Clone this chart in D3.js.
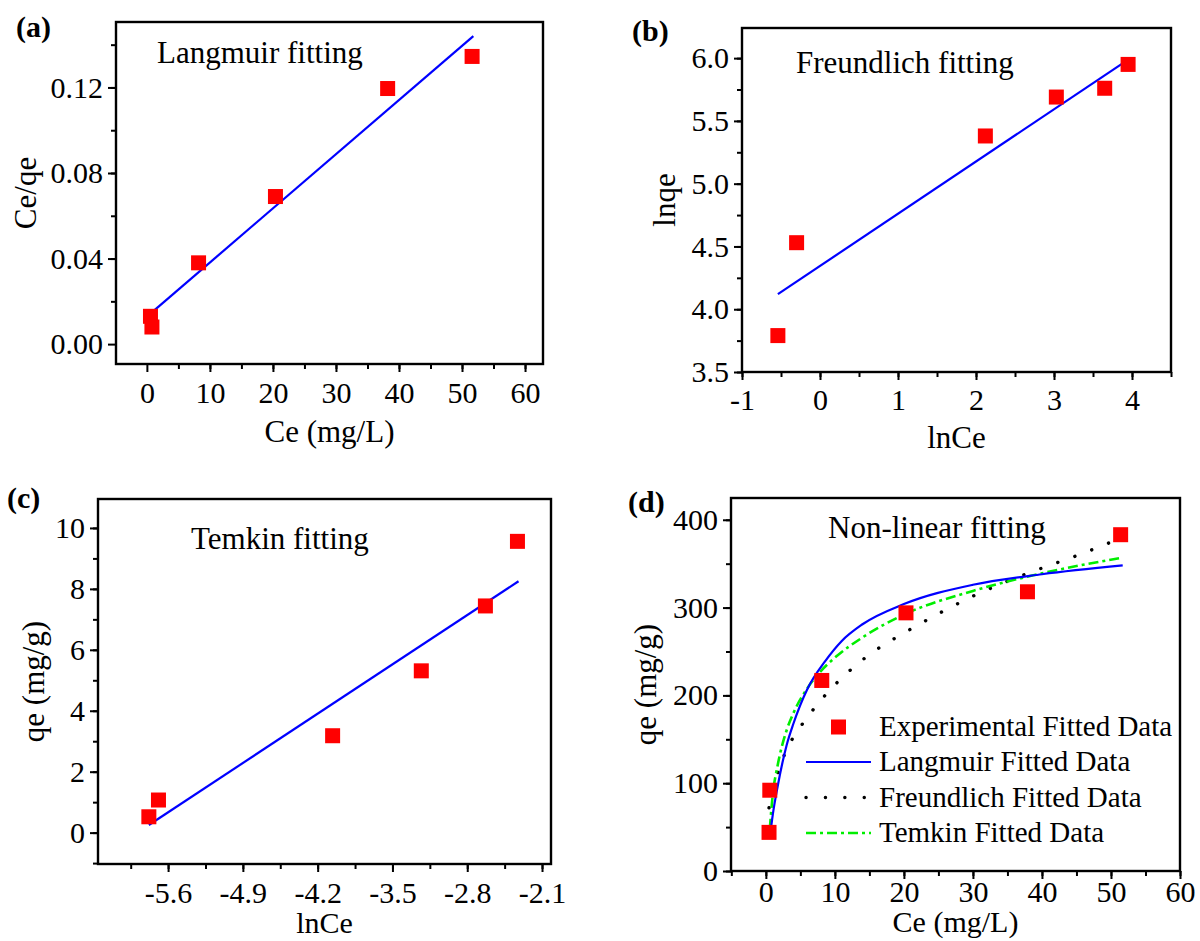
<!DOCTYPE html>
<html>
<head>
<meta charset="utf-8">
<script src="https://d3js.org/d3.v7.min.js"></script>
<style>
  body { margin: 0; background: #fff; }
  text { font-family: "Liberation Serif", "Times New Roman", serif; fill: #000; }
</style>
</head>
<body>
<svg width="1200" height="941"></svg>
<script>
// ---- data ----
// (a) Langmuir linear fit
var ceA   = [0.57, 0.8, 8.2, 20.4, 38.2, 51.6];
var ceqeA = [0.013, 0.008, 0.038, 0.069, 0.1195, 0.1345];
var fitAx = [0.7, 51.8];
var fitAy = [0.0146, 0.144];

// (b) Freundlich linear fit
var lnCeB = [-0.54, -0.30, 2.12, 3.03, 3.65, 3.95];
var lnqeB = [3.79, 4.53, 5.38, 5.69, 5.76, 5.95];
var fitBx = [-0.54, 3.98];
var fitBy = [4.12, 6.0];

// (c) Temkin linear fit
var lnCeC = [-5.78, -5.69, -4.06, -3.23, -2.63, -2.33];
var qeC   = [0.52, 1.07, 3.18, 5.31, 7.44, 9.56];
var fitCx = [-5.78, -2.32];
var fitCy = [0.25, 8.25];

// (d) non-linear fits
var ceD = [0.46, 0.57, 8.1, 20.3, 37.9, 51.4];
var qeD = [44, 92, 217, 294, 318, 383];
var langCe = [0.57, 1, 1.7, 3, 4, 6, 8.6, 11, 14, 20, 30, 40, 51.7];
var langQe = [38, 64, 96, 143, 168, 207, 239, 262, 281, 304, 326, 338, 348];
var freuCe = [0.46, 1, 2, 3, 5, 7.5, 10, 13, 16, 20, 25, 30, 35, 40, 45, 51.7];
var freuQe = [72, 90, 118, 138, 164, 190, 212, 234, 252, 271, 293, 313, 330, 345, 359, 380];
var temkCe = [0.57, 1, 1.7, 3, 4, 6, 8, 10, 14, 20, 30, 40, 51.7];
var temkQe = [48, 87, 120, 160, 180, 208, 228, 243, 266, 292, 319, 339, 357];

// ticks
var xTicksA = [0, 10, 20, 30, 40, 50, 60];
var yTicksA = [0.00, 0.04, 0.08, 0.12];
var yLabelsA = ["0.00", "0.04", "0.08", "0.12"];
var xTicksB = [-1, 0, 1, 2, 3, 4];
var xLabelsB = ["-1", "0", "1", "2", "3", "4"];
var yTicksB = [3.5, 4.0, 4.5, 5.0, 5.5, 6.0];
var yLabelsB = ["3.5", "4.0", "4.5", "5.0", "5.5", "6.0"];
var xTicksC = [-5.6, -4.9, -4.2, -3.5, -2.8, -2.1];
var xLabelsC = ["-5.6", "-4.9", "-4.2", "-3.5", "-2.8", "-2.1"];
var yTicksC = [0, 2, 4, 6, 8, 10];
var xTicksD = [0, 10, 20, 30, 40, 50, 60];
var yTicksD = [0, 100, 200, 300, 400];
var legendD = ["Experimental Fitted Data", "Langmuir Fitted Data", "Freundlich Fitted Data", "Temkin Fitted Data"];

var svg = d3.select("svg");
var zip = function(a, b) { return a.map(function(v, i) { return [v, b[i]]; }); };
var minorOf = function(dom, step, start) {
  var out = [];
  for (var v = start; v <= dom[1] + 1e-9; v += step) if (v >= dom[0] - 1e-9) out.push(+v.toFixed(4));
  return out;
};

function panel(c) {
  var g = svg.append("g");
  var x = d3.scaleLinear().domain(c.xDom).range([c.l, c.r]);
  var y = d3.scaleLinear().domain(c.yDom).range([c.b, c.t]);

  // minor ticks
  g.append("g").attr("transform", "translate(0," + c.b + ")")
    .call(d3.axisBottom(x).tickValues(c.xMinor).tickSize(5).tickFormat(""))
    .call(function(s) { s.select(".domain").remove(); });
  g.append("g").attr("transform", "translate(" + c.l + ",0)")
    .call(d3.axisLeft(y).tickValues(c.yMinor).tickSize(5).tickFormat(""))
    .call(function(s) { s.select(".domain").remove(); });

  var xa = g.append("g").attr("transform", "translate(0," + c.b + ")")
    .call(d3.axisBottom(x).tickValues(c.xTicks).tickSize(8).tickPadding(c.xPad)
      .tickFormat(function(d, i) { return c.xLabels ? c.xLabels[i] : d; }));
  var ya = g.append("g").attr("transform", "translate(" + c.l + ",0)")
    .call(d3.axisLeft(y).tickValues(c.yTicks).tickSize(8).tickPadding(5)
      .tickFormat(function(d, i) { return c.yLabels ? c.yLabels[i] : d; }));
  [xa, ya].forEach(function(a) {
    a.select(".domain").remove();
    a.selectAll("text").attr("font-size", 30);
  });
  g.selectAll(".tick line").attr("stroke", "#000").attr("stroke-width", 2);

  g.append("rect").attr("x", c.l).attr("y", c.t)
    .attr("width", c.r - c.l).attr("height", c.b - c.t)
    .attr("fill", "none").attr("stroke", "#000").attr("stroke-width", 2.4);

  // titles
  g.append("text").attr("x", c.tag[0]).attr("y", c.tag[1])
    .attr("font-size", 30).attr("font-weight", "bold").text(c.tagText);
  g.append("text").attr("x", c.inner[0]).attr("y", c.inner[1])
    .attr("font-size", 31).text(c.innerText);
  g.append("text").attr("x", (c.l + c.r) / 2).attr("y", c.xTitleY)
    .attr("text-anchor", "middle").attr("font-size", c.xTitleSize || 31).text(c.xTitle);
  g.append("text").attr("transform", "translate(" + c.yTitleX + "," + (c.t + c.b) / 2 + ") rotate(-90)")
    .attr("text-anchor", "middle").attr("font-size", 31).text(c.yTitle);

  return { g: g, x: x, y: y };
}

function squares(p, xs, ys) {
  p.g.append("g").selectAll("rect").data(zip(xs, ys)).join("rect")
    .attr("x", function(d) { return p.x(d[0]) - 7.5; })
    .attr("y", function(d) { return p.y(d[1]) - 7.5; })
    .attr("width", 15).attr("height", 15).attr("fill", "#ff0000");
}

function curve(p, xs, ys, color, dash, width, cap) {
  var line = d3.line().x(function(d) { return p.x(d[0]); }).y(function(d) { return p.y(d[1]); })
    .curve(d3.curveMonotoneX);
  p.g.append("path").datum(zip(xs, ys)).attr("d", line)
    .attr("fill", "none").attr("stroke", color).attr("stroke-width", width || 2.2)
    .attr("stroke-dasharray", dash || null).attr("stroke-linecap", cap || "butt");
}

// (a)
var pa = panel({
  l: 116, r: 543, t: 22, b: 364, xDom: [-4.9, 62.85], yDom: [-0.0093, 0.1506],
  xTicks: xTicksA, xMinor: minorOf([-4.9, 62.85], 5, 5),
  yTicks: yTicksA, yLabels: yLabelsA, yMinor: minorOf([-0.0093, 0.1506], 0.02, 0.02),
  xPad: 10,
  tag: [16, 37], tagText: "(a)", inner: [157, 63], innerText: "Langmuir fitting",
  xTitle: "Ce (mg/L)", xTitleY: 442, yTitle: "Ce/qe", yTitleX: 36
});
curve(pa, fitAx, fitAy, "#0000ff");
squares(pa, ceA, ceqeA);

// (b)
var pb = panel({
  l: 742, r: 1171, t: 28, b: 372, xDom: [-1, 4.5], yDom: [3.5, 6.24],
  xTicks: xTicksB, xLabels: xLabelsB, xMinor: minorOf([-1, 4.5], 0.5, -1),
  yTicks: yTicksB, yLabels: yLabelsB, yMinor: minorOf([3.5, 6.24], 0.25, 3.5),
  xPad: 9,
  tag: [632, 41], tagText: "(b)", inner: [796, 73], innerText: "Freundlich fitting",
  xTitle: "lnCe", xTitleY: 448, yTitle: "lnqe", yTitleX: 675
});
curve(pb, fitBx, fitBy, "#0000ff");
squares(pb, lnCeB, lnqeB);

// (c)
var pc = panel({
  l: 98, r: 551, t: 499, b: 864, xDom: [-6.256, -2.016], yDom: [-1.03, 10.95],
  xTicks: xTicksC, xLabels: xLabelsC, xMinor: minorOf([-6.256, -2.016], 0.35, -5.95),
  yTicks: yTicksC, yMinor: minorOf([-1.03, 10.95], 1, -1),
  xPad: 10,
  tag: [7, 508], tagText: "(c)", inner: [191, 549], innerText: "Temkin fitting",
  xTitle: "lnCe", xTitleY: 933, xTitleSize: 30, yTitle: "qe (mg/g)", yTitleX: 44
});
curve(pc, fitCx, fitCy, "#0000ff");
squares(pc, lnCeC, qeC);

// (d)
var pd = panel({
  l: 731, r: 1180, t: 498, b: 871, xDom: [-5.05, 60], yDom: [0, 424.8],
  xTicks: xTicksD, xMinor: minorOf([-5.05, 60], 5, -5),
  yTicks: yTicksD, yMinor: minorOf([0, 424.8], 50, 0),
  xPad: 2,
  tag: [628, 512], tagText: "(d)", inner: [828, 538], innerText: "Non-linear fitting",
  xTitle: "Ce (mg/L)", xTitleY: 932, xTitleSize: 30, yTitle: "qe (mg/g)", yTitleX: 656
});
curve(pd, freuCe, freuQe, "#000", "0.1,18", 3.4, "round");
curve(pd, temkCe, temkQe, "#00ee00", "10,4,3,4", 2.6);
curve(pd, langCe, langQe, "#0000ff", null, 2.2);
squares(pd, ceD, qeD);

// legend (d)
var leg = pd.g.append("g");
var legY = [727, 762, 797.5, 833];
leg.append("rect").attr("x", 831).attr("y", legY[0] - 7.5).attr("width", 15).attr("height", 15).attr("fill", "#ff0000");
var legStyle = [null, ["#0000ff", null, 2.2, "butt"], ["#000", "0.1,19.3", 3.4, "round"], ["#00ee00", "10,4,3,4", 2.6, "butt"]];
legStyle.forEach(function(s, i) {
  if (!s) return;
  leg.append("line").attr("x1", 806).attr("x2", 871).attr("y1", legY[i]).attr("y2", legY[i])
    .attr("stroke", s[0]).attr("stroke-dasharray", s[1]).attr("stroke-width", s[2]).attr("stroke-linecap", s[3]);
});
leg.selectAll("text.lg").data(legendD).join("text").attr("class", "lg")
  .attr("x", 879).attr("y", function(d, i) { return legY[i] + 9; })
  .attr("font-size", 29).text(function(d) { return d; });
</script>
</body>
</html>
